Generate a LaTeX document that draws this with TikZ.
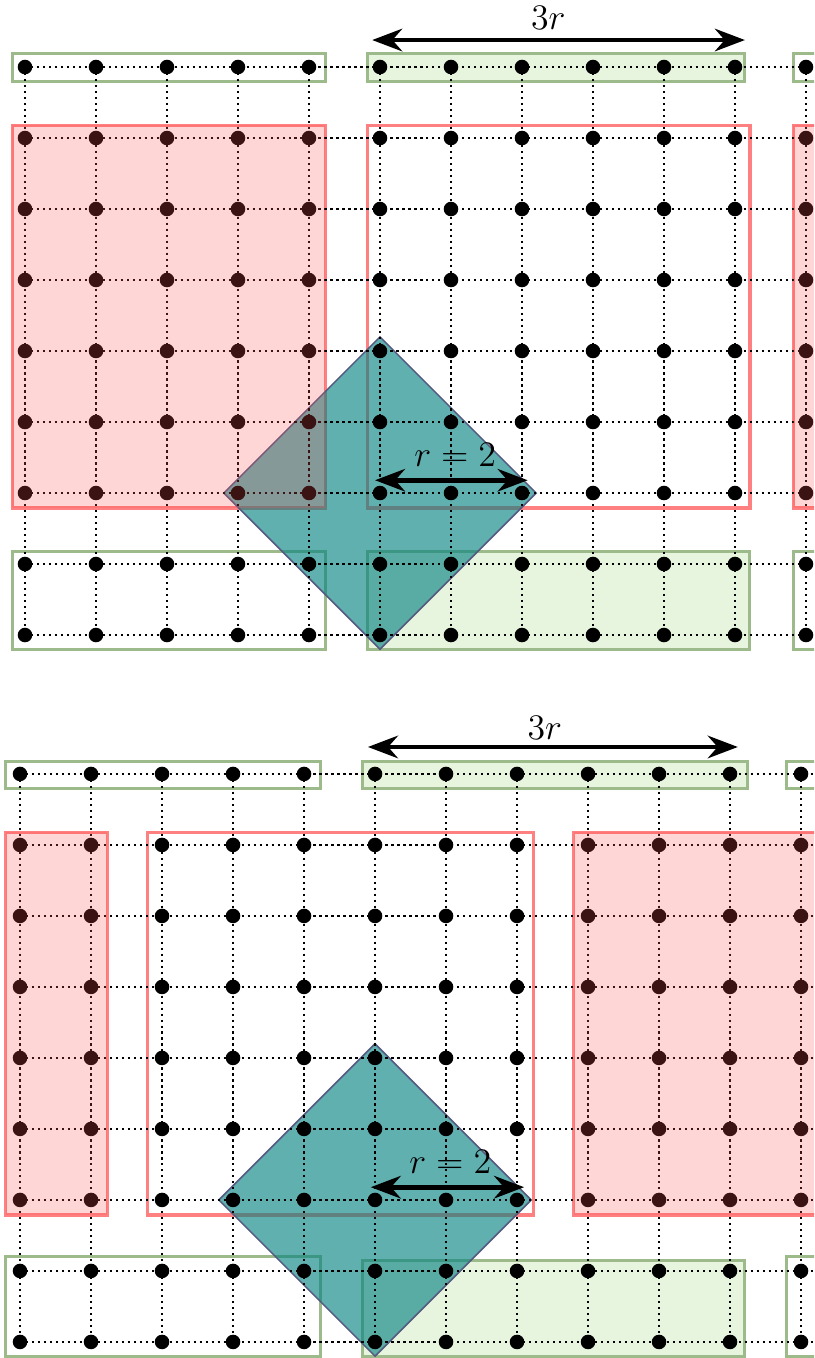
\documentclass[tikz,border=0pt]{standalone}
\usepackage{amsmath}
\usepackage{xcolor}
\usepackage{tikz}
\usetikzlibrary{arrows.meta, calc}
\definecolor{mygreen}{rgb}{0.91, 0.96, 0.87}
\definecolor{mygreenline}{rgb}{0.61, 0.73, 0.54}
\definecolor{myred}{rgb}{1.00, 0.32, 0.32}
\definecolor{myredline}{rgb}{1.00, 0.50, 0.50}
\definecolor{myteal}{rgb}{0.00, 0.50, 0.50}
\definecolor{mytealline}{rgb}{0.33, 0.35, 0.50}
\tikzstyle{dot} = [circle, fill=black, inner sep=0pt, minimum size=0.205cm]
\tikzstyle{gridline} = [line width=0.8pt, dash pattern=on 0.9pt off 1.5pt]
\tikzstyle{greenbox} = [draw=mygreenline, line width=1.2pt]
\tikzstyle{redline} = [draw=myredline, line width=1.3pt]
\tikzstyle{redfill} = [fill=myred, fill opacity=0.235]
\tikzstyle{ball} = [fill=myteal, fill opacity=0.62, draw=mytealline, line width=0.6pt]
\tikzstyle{measure} = [{Stealth[length=12pt,width=9pt]}-{Stealth[length=12pt,width=9pt]}, line width=1.9pt]
\tikzstyle{label} = [font=\fontsize{13.5}{16}\selectfont, inner sep=1pt]

\begin{document}
\begin{tikzpicture}
\useasboundingbox (0,0) rectangle (11.465,-19.127);
\clip (0,0) rectangle (11.465,-19.127);

% top panel
\begin{scope}[shift={(0.352,-0.944)}]
\foreach \i in {0,...,11} \foreach \j in {0,...,8} \coordinate (t-\i-\j) at (\i,-\j);
\draw[greenbox] (-0.18,0.19) rectangle (4.23,-0.2);
\draw[greenbox, fill=mygreen] (4.82,0.19) rectangle (10.14,-0.2);
\draw[greenbox] (10.82,0.19) rectangle (11.6,-0.2);
\draw[greenbox] (-0.18,-6.82) rectangle (4.23,-8.21);
\draw[greenbox, fill=mygreen] (4.82,-6.82) rectangle (10.21,-8.21);
\draw[greenbox] (10.82,-6.82) rectangle (11.6,-8.21);
\path[redline] (-0.18,-0.82) rectangle (4.23,-6.21);
\path[redline] (4.82,-0.82) rectangle (10.21,-6.21);
\path[redline] (10.82,-0.82) rectangle (11.6,-6.21);
\draw[ball] ([yshift=2.2cm]t-5-6) -- ([xshift=2.2cm]t-5-6)
  -- ([yshift=-2.2cm]t-5-6) -- ([xshift=-2.2cm]t-5-6) -- cycle;
\foreach \j in {0,...,8} \draw[gridline] (t-0-\j) -- (t-11-\j) -- ++(0.6,0);
\foreach \i in {0,...,11} \draw[gridline] (t-\i-0) -- (t-\i-8);
\foreach \i in {0,...,11} \foreach \j in {0,...,8} \node[dot] at (t-\i-\j) {};
\fill[redfill] (-0.18,-0.82) rectangle (4.23,-6.21);
\fill[redfill] (10.82,-0.82) rectangle (11.6,-6.21);
\coordinate (t-wide-l) at (4.89,0.38);
\coordinate (t-wide-r) at (10.14,0.38);
\coordinate (t-rad-l) at (4.93,-5.82);
\coordinate (t-rad-r) at (7.08,-5.82);
\draw[measure] (t-wide-l) -- (t-wide-r);
\draw[measure] (t-rad-l) -- (t-rad-r);
\node[label] (t-wide-text) at (7.37,0.69) {$3r$};
\node[label] (t-rad-text) at (6.06,-5.46) {$r = 2$};
\end{scope}

% bottom panel
\begin{scope}[shift={(0.282,-10.901)}]
\foreach \i in {0,...,11} \foreach \j in {0,...,8} \coordinate (b-\i-\j) at (\i,-\j);
\draw[greenbox] (-0.2,0.18) rectangle (4.23,-0.21);
\draw[greenbox, fill=mygreen] (4.82,0.18) rectangle (10.24,-0.21);
\draw[greenbox] (10.8,0.18) rectangle (11.6,-0.21);
\draw[greenbox] (-0.2,-6.8) rectangle (4.23,-8.21);
\draw[greenbox, fill=mygreen] (4.82,-6.85) rectangle (10.21,-8.21);
\draw[greenbox] (10.8,-6.8) rectangle (11.6,-8.21);
\path[redline] (-0.2,-0.82) rectangle (1.23,-6.21);
\path[redline] (1.8,-0.82) rectangle (7.23,-6.21);
\path[redline] (7.8,-0.82) rectangle (11.6,-6.21);
\draw[ball] ([yshift=2.2cm]b-5-6) -- ([xshift=2.2cm]b-5-6)
  -- ([yshift=-2.2cm]b-5-6) -- ([xshift=-2.2cm]b-5-6) -- cycle;
\foreach \j in {0,...,8} \draw[gridline] (b-0-\j) -- (b-11-\j) -- ++(0.6,0);
\foreach \i in {0,...,11} \draw[gridline] (b-\i-0) -- (b-\i-8);
\foreach \i in {0,...,11} \foreach \j in {0,...,8} \node[dot] at (b-\i-\j) {};
\fill[redfill] (-0.2,-0.82) rectangle (1.23,-6.21);
\fill[redfill] (7.8,-0.82) rectangle (11.6,-6.21);
\coordinate (b-wide-l) at (4.9,0.38);
\coordinate (b-wide-r) at (10.11,0.38);
\coordinate (b-rad-l) at (4.94,-5.82);
\coordinate (b-rad-r) at (7.1,-5.82);
\draw[measure] (b-wide-l) -- (b-wide-r);
\draw[measure] (b-rad-l) -- (b-rad-r);
\node[label] (b-wide-text) at (7.39,0.65) {$3r$};
\node[label] (b-rad-text) at (6.06,-5.46) {$r = 2$};
\end{scope}
\end{tikzpicture}
\end{document}
